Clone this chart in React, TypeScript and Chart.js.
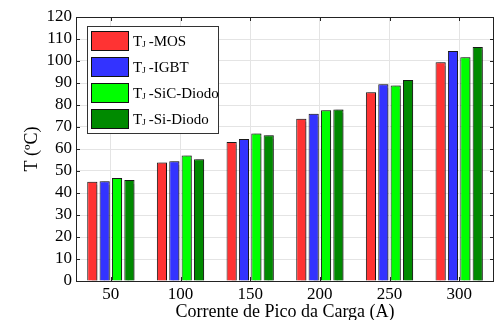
import { useEffect, useRef } from 'react';
import { Chart, registerables } from 'chart.js';

Chart.register(...registerables);

const categories = ['50', '100', '150', '200', '250', '300'];
const seriesNames = ['MOS', 'IGBT', 'SiC-Diodo', 'Si-Diodo'];
const mosValues = [45.1, 53.9, 63.2, 73.8, 85.8, 99.4];
const igbtValues = [45.3, 54.4, 64.5, 76.0, 89.4, 104.5];
const sicValues = [46.8, 57.1, 67.1, 77.6, 88.9, 101.7];
const siValues = [45.9, 55.3, 66.2, 78.0, 91.4, 106.4];
const seriesColors = ['#ff3333', '#3333ff', '#00ff00', '#008a00'];
const xTitle = 'Corrente de Pico da Carga (A)';
const yTitle = 'T (ºC)';

const FONT = "'Liberation Serif', 'Times New Roman', serif";

const framePlugin = {
  id: 'frame',
  afterDatasetsDraw(chart: any) {
    const { ctx, chartArea: a, scales } = chart;
    ctx.save();
    ctx.strokeStyle = '#222';
    ctx.lineWidth = 1;
    ctx.beginPath();
    const tl = 4;
    scales.y.ticks.forEach((t: any, i: number) => {
      const y = Math.round(scales.y.getPixelForTick(i)) + 0.5;
      ctx.moveTo(a.left, y);
      ctx.lineTo(a.left + tl, y);
      ctx.moveTo(a.right, y);
      ctx.lineTo(a.right - tl, y);
    });
    scales.x.ticks.forEach((t: any, i: number) => {
      const x = Math.round(scales.x.getPixelForTick(i)) + 0.5;
      ctx.moveTo(x, a.top);
      ctx.lineTo(x, a.top + tl);
      ctx.moveTo(x, a.bottom);
      ctx.lineTo(x, a.bottom - tl);
    });
    ctx.stroke();
    ctx.strokeStyle = '#222';
    ctx.strokeRect(Math.round(a.left) + 0.5, Math.round(a.top) + 0.5, Math.round(a.right - a.left) - 1, Math.round(a.bottom - a.top));
    ctx.restore();
  },
};

const legendPlugin = {
  id: 'innerLegend',
  afterDraw(chart: any) {
    const { ctx, chartArea: a } = chart;
    const x0 = a.left + 11;
    const y0 = a.top + 9;
    const w = 131;
    const h = 107;
    ctx.save();
    ctx.fillStyle = '#fff';
    ctx.fillRect(x0, y0, w, h);
    ctx.strokeStyle = '#333';
    ctx.lineWidth = 1;
    ctx.strokeRect(x0 + 0.5, y0 + 0.5, w, h);
    chart.data.datasets.forEach((ds: any, i: number) => {
      const sy = y0 + 5 + i * 26;
      const sx = x0 + 4;
      ctx.fillStyle = ds.backgroundColor;
      ctx.fillRect(sx, sy, 38, 20);
      ctx.strokeStyle = '#111';
      ctx.strokeRect(sx + 0.5, sy + 0.5, 37, 19);
      const ty = sy + 11;
      ctx.fillStyle = '#000';
      ctx.textBaseline = 'middle';
      ctx.textAlign = 'left';
      ctx.font = `15px ${FONT}`;
      let tx = sx + 42;
      ctx.fillText('T', tx, ty);
      tx += ctx.measureText('T').width;
      ctx.font = `9px ${FONT}`;
      ctx.fillText('J', tx, ty + 3);
      tx += ctx.measureText('J').width + 3;
      ctx.font = `15px ${FONT}`;
      ctx.fillText('-' + ds.label, tx, ty);
    });
    ctx.restore();
  },
};

const shadowPlugin = {
  id: 'barShadow',
  beforeDatasetsDraw(chart: any) {
    const ctx = chart.ctx;
    ctx.save();
    ctx.shadowColor = 'rgba(0,0,0,0.35)';
    ctx.shadowOffsetX = 2;
    ctx.shadowOffsetY = 0;
    ctx.shadowBlur = 1;
  },
  afterDatasetsDraw(chart: any) {
    chart.ctx.restore();
  },
};

export default function App() {
  const ref = useRef<HTMLCanvasElement | null>(null);
  useEffect(() => {
    document.body.style.margin = '0';
    const canvas = ref.current!;
    const allValues = [mosValues, igbtValues, sicValues, siValues];
    const chart = new Chart(canvas, {
      type: 'bar',
      data: {
        labels: categories,
        datasets: seriesNames.map((name, i) => ({
          label: name,
          data: allValues[i],
          backgroundColor: seriesColors[i],
          borderColor: '#1a1a1a',
          borderWidth: 1,
          barPercentage: 0.82,
          categoryPercentage: 0.71,
        })),
      },
      options: {
        responsive: false,
        animation: false,
        devicePixelRatio: 1,
        layout: { padding: { top: 17, right: 3, left: 0, bottom: 0 } },
        plugins: { legend: { display: false }, tooltip: { enabled: false } },
        scales: {
          x: {
            grid: { color: '#e4e4e4', offset: false, drawTicks: false },
            border: { display: false },
            ticks: { color: '#000', font: { family: FONT, size: 17 }, padding: 3, autoSkip: false, maxRotation: 0 },
            title: {
              display: true,
              text: xTitle,
              color: '#000',
              font: { family: FONT, size: 18 },
              padding: { top: 0, bottom: -3 },
            },
            afterFit: (s: any) => {
              s.height = 39;
            },
          },
          y: {
            min: 0,
            max: 120,
            grid: { color: '#e4e4e4', drawTicks: false },
            border: { display: false },
            ticks: { stepSize: 10, color: '#000', font: { family: FONT, size: 17 }, padding: 4, autoSkip: false },
            title: {
              display: true,
              text: yTitle,
              color: '#000',
              font: { family: FONT, size: 18 },
              padding: { top: 21, bottom: 0 },
            },
            afterFit: (s: any) => {
              s.width = 76;
            },
          },
        },
      },
      plugins: [shadowPlugin, framePlugin, legendPlugin],
    });
    return () => chart.destroy();
  }, []);
  return <canvas ref={ref} width={497} height={320} style={{ display: 'block' }} />;
}
